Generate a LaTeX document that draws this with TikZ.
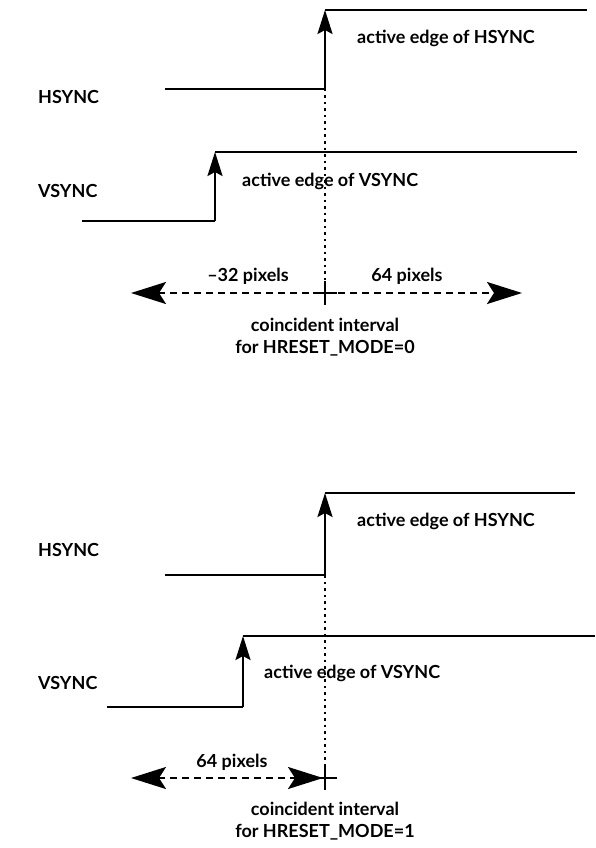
\documentclass[tikz,border=0pt]{standalone}
\usepackage{fontspec}
\setmainfont{Lato}
\usetikzlibrary{arrows.meta}
\begin{document}
\begin{tikzpicture}[x=1pt,y=-1pt,
  sig/.style={line width=2.4pt},
  edgearrow/.style={line width=2.4pt,-{Stealth[length=24pt,width=15pt,inset=4pt]}},
  interval/.style={line width=2.2pt,dash pattern=on 7pt off 5pt,{Stealth[length=35pt,width=22pt,inset=7pt]}-{Stealth[length=35pt,width=22pt,inset=7pt]}},
  dotline/.style={line width=2.5pt,dash pattern=on 2.5pt off 4pt},
  lbl/.style={font=\bfseries\fontsize{18}{22}\selectfont,inner sep=0pt},
  tick/.style={line width=2pt}]
\useasboundingbox (0,0) rectangle (595,848);
% ---------- top panel ----------
\node[lbl,anchor=west] (h1) at (38,97) {HSYNC};
\node[lbl,anchor=west] (v1) at (38,191) {VSYNC};
\coordinate (h1a) at (165,89);
\coordinate (h1b) at (325,89);
\coordinate (h1c) at (325,10);
\coordinate (h1d) at (587,10);
\draw[sig] (h1a) -- (h1b);
\draw[edgearrow] (h1b) -- (h1c);
\draw[sig] (h1c) -- (h1d);
\node[lbl,anchor=west] (ah1) at (357,38) {active edge of HSYNC};
\coordinate (v1a) at (82,221);
\coordinate (v1b) at (215,221);
\coordinate (v1c) at (215,152);
\coordinate (v1d) at (577,152);
\draw[sig] (v1a) -- (v1b);
\draw[edgearrow] (v1b) -- (v1c);
\draw[sig] (v1c) -- (v1d);
\node[lbl,anchor=west] (av1) at (242,181) {active edge of VSYNC};
\coordinate (d1) at (325,293);
\draw[dotline] (h1b) -- (d1);
\coordinate (i1l) at (131,293);
\coordinate (i1r) at (522,293);
\draw[interval] (i1l) -- (i1r);
\draw[tick] (325,281) -- (325,305);
\draw[tick] (313,293) -- (337,293);
\node[lbl] (m32) at (248,276) {–32 pixels};
\node[lbl] (p64a) at (407,276) {64 pixels};
\node[lbl,align=center] (c1) at (325,337) {coincident interval\\for HRESET\_MODE=0};
% ---------- bottom panel ----------
\node[lbl,anchor=west] (h2) at (38,550) {HSYNC};
\node[lbl,anchor=west] (v2) at (38,683) {VSYNC};
\coordinate (h2a) at (165,575);
\coordinate (h2b) at (325,575);
\coordinate (h2c) at (325,493);
\coordinate (h2d) at (575,493);
\draw[sig] (h2a) -- (h2b);
\draw[edgearrow] (h2b) -- (h2c);
\draw[sig] (h2c) -- (h2d);
\node[lbl,anchor=west] (ah2) at (357,521) {active edge of HSYNC};
\coordinate (v2a) at (107,707);
\coordinate (v2b) at (243,707);
\coordinate (v2c) at (243,636);
\coordinate (v2d) at (595,636);
\draw[sig] (v2a) -- (v2b);
\draw[edgearrow] (v2b) -- (v2c);
\draw[sig] (v2c) -- (v2d);
\node[lbl,anchor=west] (av2) at (264,673) {active edge of VSYNC};
\coordinate (d2) at (325,778);
\draw[dotline] (h2b) -- (d2);
\coordinate (i2l) at (131,778);
\coordinate (i2r) at (323,778);
\draw[interval] (i2l) -- (i2r);
\draw[tick] (325,766) -- (325,790);
\draw[tick] (313,778) -- (337,778);
\node[lbl] (p64b) at (232,762) {64 pixels};
\node[lbl,align=center] (c2) at (325,821) {coincident interval\\for HRESET\_MODE=1};
\end{tikzpicture}
\end{document}
